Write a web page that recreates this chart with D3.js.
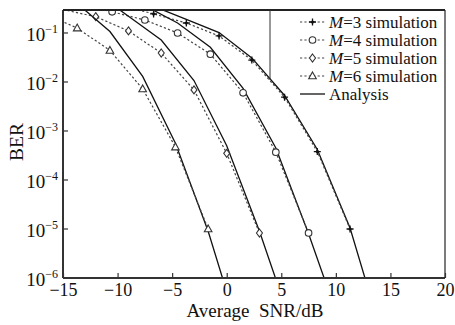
<!DOCTYPE html>
<html>
<head>
<meta charset="utf-8">
<script src="https://cdn.jsdelivr.net/npm/d3@7"></script>
<style>
  body { margin: 0; background: #fff; }
  svg { font-family: "Liberation Serif", "Times New Roman", serif; }
  .sim { fill: none; stroke: #444; stroke-width: 1.2; stroke-dasharray: 2.2,2.2; }
  .ana { fill: none; stroke: #111; stroke-width: 1.3; }
  .mk { fill: #fff; stroke: #333; stroke-width: 1.1; }
</style>
</head>
<body>
<div id="plot"></div>
<script>
// values (SNR in dB, BER)
const snrM3 = [-9.7, -6.7, -3.7, -0.7, 2.3, 5.3, 8.3, 11.3, 14.3]
const simM3 = [0.37, 0.245, 0.16, 0.087, 0.028, 0.0049, 3.8e-4, 1.0e-5]
const anaM3 = [0.5, 0.35, 0.19, 0.102, 0.031, 0.0053, 4.2e-4, 1.05e-5, 6e-8]

const snrM4 = [-13.5, -10.5, -7.5, -4.5, -1.5, 1.5, 4.5, 7.5, 10.5]
const simM4 = [0.4, 0.27, 0.184, 0.10, 0.037, 0.006, 3.7e-4, 8.3e-6]
const anaM4 = [0.6, 0.5, 0.36, 0.16, 0.051, 0.0074, 4.5e-4, 8e-6, 1e-7]

const snrM5 = [-15, -12, -9, -6, -3, 0, 3, 6]
const simM5 = [0.3, 0.215, 0.11, 0.039, 0.0069, 3.5e-4, 8.3e-6]
const anaM5 = [1.0, 0.66, 0.22, 0.072, 0.0107, 5e-4, 9e-6, 1e-7]

const snrM6 = [-16.7, -13.7, -10.7, -7.7, -4.7, -1.7, 1.3]
const simM6 = [0.25, 0.126, 0.044, 0.0072, 4.7e-4, 1.0e-5]
const anaM6 = [1.0, 0.4, 0.107, 0.013, 5.6e-4, 9e-6, 6e-8]

const xTicks = [-15, -10, -5, 0, 5, 10, 15, 20]
const yTicks = [1, 2, 3, 4, 5, 6]   // 10^-k
const legendLabels = ["3", "4", "5", "6"]

const w = 455, h = 325,
      margin = {top: 10, right: 10, bottom: 47, left: 63},
      x = d3.scaleLinear().domain([-15, 20]).range([margin.left, w - margin.right]),
      y = d3.scaleLog().domain([1e-6, Math.pow(10, -0.531)]).range([h - margin.bottom, margin.top])

const svg = d3.select("#plot").append("svg")
  .attr("width", w).attr("height", h)

svg.append("clipPath").attr("id", "clip")
  .append("rect")
  .attr("x", x(-15)).attr("y", y.range()[1])
  .attr("width", x(20) - x(-15)).attr("height", y.range()[0] - y.range()[1])

const series = [
  {snr: snrM3, sim: simM3, ana: anaM3, mk: "star"},
  {snr: snrM4, sim: simM4, ana: anaM4, mk: "circle"},
  {snr: snrM5, sim: simM5, ana: anaM5, mk: "diamond"},
  {snr: snrM6, sim: simM6, ana: anaM6, mk: "triangle"}
]

const drawMarker = (g, type, cx, cy) => {
  if (type == "circle") {
    g.append("circle").attr("class", "mk").attr("cx", cx).attr("cy", cy).attr("r", 3.3)
  } else if (type == "diamond") {
    g.append("path").attr("class", "mk")
      .attr("d", `M${cx},${cy-4}L${cx+3},${cy}L${cx},${cy+4}L${cx-3},${cy}Z`)
  } else if (type == "triangle") {
    g.append("path").attr("class", "mk")
      .attr("d", `M${cx},${cy-4}L${cx+3.8},${cy+2.8}L${cx-3.8},${cy+2.8}Z`)
  } else {
    g.append("path").attr("class", "mk").style("fill", "none").style("stroke", "#111").style("stroke-width", 1.3)
      .attr("d", `M${cx-3.5},${cy}H${cx+3.5}M${cx},${cy-3.5}V${cy+3.5}`)
    g.append("circle").attr("cx", cx).attr("cy", cy).attr("r", 1.6).style("fill", "#111")
  }
}

const plot = svg.append("g").attr("clip-path", "url(#clip)")
const line = d3.line().x(d => x(d[0])).y(d => y(d[1]))

series.forEach(s => {
  const anaPts = s.ana.map((v, i) => [s.snr[i], v])
  plot.append("path").datum(anaPts).attr("class", "ana").attr("d", line)
  const simPts = s.sim.map((v, i) => [s.snr[i], v])
  plot.append("path").datum(simPts).attr("class", "sim").attr("d", line)
  simPts.forEach(p => {
    if (p[1] < 0.28) drawMarker(plot, s.mk, x(p[0]), y(p[1]))
  })
})

// frame
const x0 = x(-15), x1 = x(20), y0 = y.range()[0], y1 = y.range()[1]
svg.append("line").attr("x1", x0).attr("x2", x1).attr("y1", y0).attr("y2", y0).style("stroke", "#333").style("stroke-width", 2)
svg.append("line").attr("x1", x0).attr("x2", x0).attr("y1", y0).attr("y2", y1).style("stroke", "#333").style("stroke-width", 2)
svg.append("line").attr("x1", x0).attr("x2", x1).attr("y1", y1).attr("y2", y1).style("stroke", "#222").style("stroke-width", 1.8)
svg.append("line").attr("x1", x1).attr("x2", x1).attr("y1", y0).attr("y2", y1).style("stroke", "#222").style("stroke-width", 1.2)

// x axis
const xAxis = svg.append("g").attr("transform", `translate(0,${y0})`)
  .call(d3.axisBottom(x).tickValues(xTicks).tickSizeInner(-5).tickSizeOuter(0).tickPadding(5)
    .tickFormat(d => d < 0 ? "\u2212" + Math.abs(d) : d))
xAxis.select(".domain").remove()
xAxis.selectAll("line").style("stroke", "#333").style("stroke-width", 1.2)
xAxis.selectAll("text").style("font-size", "18px").style("fill", "#111")
  .style("font-family", "Liberation Serif, serif")

// y axis
const yAxis = svg.append("g").attr("transform", `translate(${x0},0)`)
yTicks.forEach(k => {
  const yy = y(Math.pow(10, -k))
  yAxis.append("line").attr("x1", 0).attr("x2", 5).attr("y1", yy).attr("y2", yy)
    .style("stroke", "#333").style("stroke-width", 1.2)
  const t = yAxis.append("text").attr("x", -5).attr("y", yy + 8)
    .attr("text-anchor", "end").style("font-size", "19px").style("fill", "#111")
  t.append("tspan").text("10")
  t.append("tspan").attr("dy", -8).style("font-size", "12px").text("\u2212" + k)
})

// axis titles
svg.append("text").attr("x", 255).attr("y", 317).attr("text-anchor", "middle")
  .style("font-size", "19px").style("fill", "#111").style("white-space", "pre")
  .text("Average  SNR/dB")
svg.append("text").attr("transform", "translate(23,142) rotate(-90)").attr("text-anchor", "middle")
  .style("font-size", "19.5px").style("fill", "#111")
  .text("BER")

// legend (no fill: the M=3 curve shows through its lower left corner)
const lg = svg.append("g")
lg.append("line").attr("x1", 270).attr("x2", 270).attr("y1", y1).attr("y2", 80)
  .style("stroke", "#333").style("stroke-width", 1)
const rowY = i => 22 + i * 18
legendLabels.forEach((m, i) => {
  const yy = rowY(i)
  lg.append("line").attr("class", "sim").attr("x1", 300).attr("x2", 325).attr("y1", yy).attr("y2", yy)
  drawMarker(lg, series[i].mk, 312.5, yy)
  const t = lg.append("text").attr("x", 329).attr("y", yy + 6).style("font-size", "17px").style("fill", "#111")
  t.append("tspan").style("font-style", "italic").text("M")
  t.append("tspan").text("=" + m + " simulation")
})
lg.append("line").attr("class", "ana").attr("x1", 300).attr("x2", 325).attr("y1", rowY(4)).attr("y2", rowY(4))
lg.append("text").attr("x", 329).attr("y", rowY(4) + 6).style("font-size", "17px").style("fill", "#111").text("Analysis")
</script>
</body>
</html>
